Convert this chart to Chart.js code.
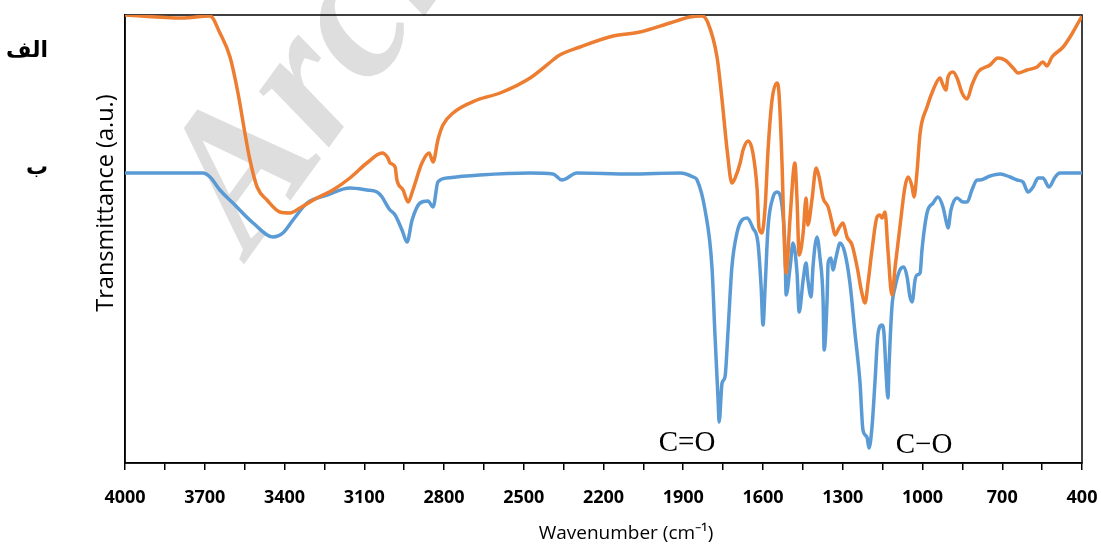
<!DOCTYPE html>
<html>
<head>
<meta charset="utf-8">
<script src="https://cdn.jsdelivr.net/npm/chart.js@4.4.1/dist/chart.umd.min.js"></script>
<style>
  html, body { margin: 0; padding: 0; background: #fff; }
  #wrap { width: 1101px; height: 547px; }
</style>
</head>
<body>
<div id="wrap"><canvas id="ftir" width="1101" height="547"></canvas></div>
<script>
// spectrum (a) - orange
const wnA = [4000, 3786, 3680, 3643, 3605, 3575, 3549, 3530, 3503, 3466, 3417, 3379, 3342, 3278, 3218, 3154, 3090, 3033, 3011, 3003, 2984, 2977, 2954, 2935, 2917, 2883, 2856, 2841, 2823, 2804, 2766, 2676, 2589, 2476, 2390, 2371, 2288, 2164, 2063, 1950, 1875, 1829, 1807, 1773, 1754, 1735, 1717, 1705, 1686, 1675, 1656, 1638, 1622, 1615, 1604, 1592, 1581, 1566, 1547, 1540, 1528, 1521, 1513, 1498, 1480, 1472, 1464, 1449, 1438, 1431, 1416, 1400, 1389, 1374, 1355, 1340, 1329, 1314, 1299, 1284, 1265, 1246, 1228, 1216, 1205, 1190, 1171, 1160, 1152, 1141, 1130, 1115, 1103, 1085, 1066, 1054, 1039, 1032, 1021, 1009, 983, 960, 934, 923, 912, 904, 885, 870, 851, 832, 814, 791, 746, 716, 690, 659, 641, 607, 569, 547, 532, 513, 471, 445, 419, 400];
const tA = [448, 445, 447, 430, 406, 370, 330, 303, 276, 263, 251, 250, 255, 265, 273, 285, 300, 310, 305, 300, 296, 283, 273, 261, 273, 300, 310, 301, 323, 338, 350, 363, 370, 385, 403, 407, 416, 427, 431, 440, 446, 447, 440, 406, 363, 313, 280, 285, 300, 313, 322, 310, 273, 235, 230, 256, 313, 363, 380, 370, 296, 230, 190, 246, 300, 263, 208, 230, 265, 238, 263, 295, 286, 265, 256, 240, 228, 235, 240, 226, 218, 196, 170, 160, 180, 213, 246, 248, 245, 251, 213, 168, 196, 236, 276, 286, 276, 266, 290, 330, 356, 373, 385, 378, 373, 386, 391, 385, 370, 364, 378, 391, 398, 405, 403, 395, 390, 393, 396, 401, 397, 406, 416, 426, 438, 447];

// spectrum (b) - blue
const wnB = [4000, 3707, 3680, 3643, 3594, 3518, 3443, 3406, 3368, 3315, 3240, 3154, 3090, 3052, 3033, 3011, 3003, 2984, 2958, 2939, 2920, 2890, 2860, 2841, 2823, 2789, 2665, 2476, 2390, 2356, 2300, 2100, 1912, 1863, 1848, 1818, 1792, 1781, 1769, 1765, 1754, 1743, 1732, 1717, 1698, 1679, 1660, 1638, 1619, 1607, 1600, 1592, 1581, 1562, 1547, 1528, 1517, 1513, 1498, 1487, 1472, 1464, 1449, 1438, 1431, 1419, 1412, 1397, 1386, 1374, 1370, 1359, 1355, 1344, 1337, 1325, 1310, 1292, 1273, 1254, 1235, 1224, 1209, 1201, 1190, 1179, 1167, 1152, 1145, 1137, 1130, 1126, 1115, 1103, 1085, 1070, 1058, 1047, 1039, 1028, 1021, 1009, 1002, 983, 960, 942, 923, 912, 904, 893, 870, 848, 832, 814, 795, 784, 746, 708, 671, 644, 622, 603, 584, 565, 547, 524, 501, 483, 407, 400];
const tB = [290, 290, 286, 273, 260, 240, 226, 230, 243, 260, 268, 275, 273, 271, 266, 256, 253, 248, 233, 221, 243, 260, 262, 256, 281, 285, 288, 290, 289, 283, 290, 289, 290, 286, 283, 253, 196, 130, 63, 41, 80, 86, 130, 196, 230, 243, 245, 235, 220, 176, 138, 176, 236, 266, 271, 256, 213, 168, 196, 220, 190, 151, 183, 200, 183, 166, 196, 226, 206, 163, 113, 163, 200, 205, 193, 206, 220, 210, 180, 130, 80, 33, 26, 15, 36, 80, 130, 138, 130, 90, 65, 96, 156, 176, 193, 196, 186, 166, 161, 183, 188, 190, 213, 250, 260, 266, 256, 243, 235, 253, 265, 261, 261, 273, 283, 283, 287, 289, 286, 283, 281, 271, 276, 285, 285, 276, 286, 290, 290, 290];

const xTicks = [];
for (let v = 400; v <= 4000; v += 150) xTicks.push(v);

const toPts = (xs, ys) => xs.map((x, i) => ({x: x, y: ys[i]}));

// frame, watermark and free texts
const extras = {
    id: 'extras',
    beforeDatasetsDraw(chart) {
        const c = chart.ctx;
        const a = chart.chartArea;
        c.save();
        // watermark
        c.translate(250, 256);
        c.rotate(-54 * Math.PI / 180);
        c.font = 'italic bold 195px "Liberation Serif"';
        c.fillStyle = 'rgba(200,200,200,0.6)';
        c.fillText('Archive of SID', 0, 0);
        c.restore();

        c.save();
        c.strokeStyle = '#000';
        c.lineWidth = 1.5;
        c.strokeRect(a.left, a.top, a.right - a.left, a.bottom - a.top);
        c.restore();
    },
    afterDraw(chart) {
        const c = chart.ctx;
        c.save();
        c.fillStyle = '#000';
        c.font = '29px "Liberation Serif"';
        c.textAlign = 'center';
        c.textBaseline = 'middle';
        c.fillText('C=O', 687, 443);
        c.fillText('C\u2212O', 924, 445);

        c.font = 'bold 22px "DejaVu Sans"';
        c.textAlign = 'right';
        c.fillText('الف', 48, 51);
        c.fillText('ب', 48, 168);

        c.font = '19px "Open Sans"';
        c.textAlign = 'center';
        c.fillText('Wavenumber (cm\u207B\u00B9)', 626, 534);
        c.font = '23.5px "Open Sans"';
        c.translate(106, 203);
        c.rotate(-Math.PI / 2);
        c.fillText('Transmittance (a.u.)', 0, 0);
        c.restore();
    }
};

new Chart(document.getElementById('ftir').getContext('2d'), {
    type: 'line',
    data: {
        datasets: [{
            label: 'a',
            data: toPts(wnA, tA),
            borderColor: '#ED7D31',
            borderWidth: 3.5,
            pointRadius: 0,
            cubicInterpolationMode: 'monotone',
            fill: false
        }, {
            label: 'b',
            data: toPts(wnB, tB),
            borderColor: '#5B9BD5',
            borderWidth: 3.5,
            pointRadius: 0,
            cubicInterpolationMode: 'monotone',
            fill: false
        }]
    },
    options: {
        responsive: false,
        animation: false,
        layout: {padding: {left: 125, top: 15, right: 19, bottom: 0}},
        plugins: {legend: {display: false}, tooltip: {enabled: false}},
        scales: {
            x: {
                type: 'linear',
                reverse: true,
                min: 400,
                max: 4000,
                afterBuildTicks: s => { s.ticks = xTicks.map(v => ({value: v})); },
                afterFit: s => { s.height = 84; },
                grid: {drawOnChartArea: false, drawTicks: true, tickLength: 7, color: '#000', lineWidth: 1.5},
                border: {display: true, color: '#000', width: 1.5},
                ticks: {
                    autoSkip: false,
                    maxRotation: 0,
                    padding: 17,
                    color: '#000',
                    font: {family: 'Open Sans', size: 18, weight: 'bold'},
                    callback: v => ((4000 - v) % 300 === 0 ? String(v) : '')
                }
            },
            y: {
                min: 0,
                max: 448,
                afterFit: s => { s.width = 0; },
                grid: {display: false},
                border: {display: true, color: '#000', width: 1.5},
                ticks: {display: false}
            }
        }
    },
    plugins: [extras]
});
</script>
</body>
</html>
